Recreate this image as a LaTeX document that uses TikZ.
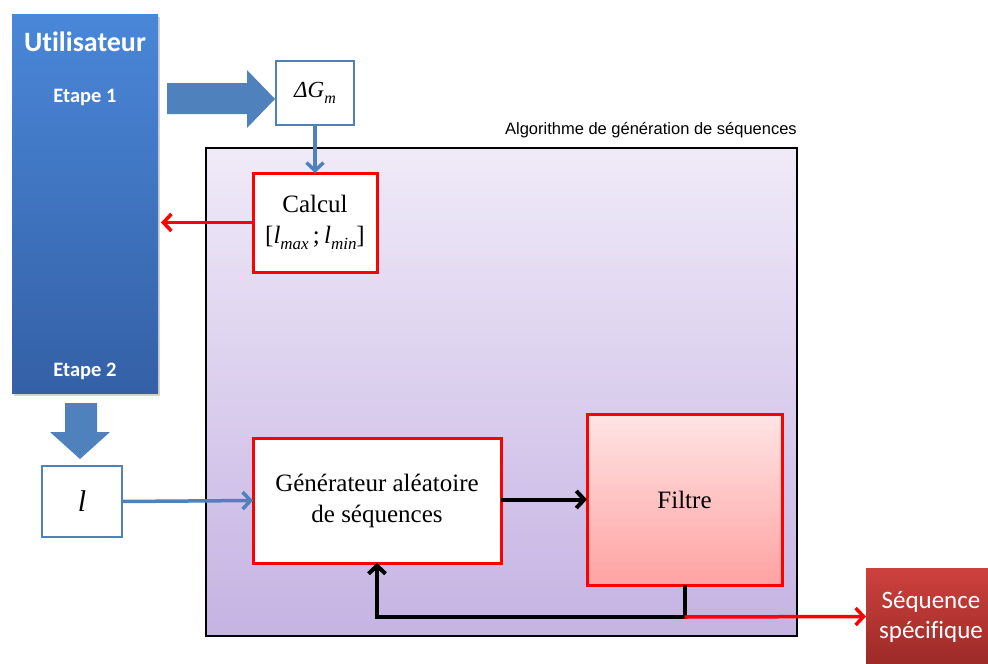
\documentclass[tikz,border=0pt]{standalone}
\usepackage{fontspec}
\setmainfont{Liberation Serif}
\newfontfamily\calib[Ligatures=NoCommon]{Carlito}
\newfontfamily\arialf{Liberation Sans}
\usetikzlibrary{arrows.meta,shadows}
\definecolor{ublue}{HTML}{4F81BD}
\definecolor{utop}{HTML}{4A87D8}
\definecolor{ubot}{HTML}{3460A6}
\definecolor{ptop}{HTML}{F0EAF8}
\definecolor{pbot}{HTML}{C5B3E3}
\definecolor{ftop}{HTML}{FFE4E4}
\definecolor{fbot}{HTML}{FFA2A2}
\definecolor{stop}{HTML}{CD413D}
\definecolor{sbot}{HTML}{9C2A27}
\definecolor{redb}{HTML}{FF0000}
\tikzset{
  box/.style={rectangle, inner sep=0pt, outer sep=0pt},
  bluebox/.style={box, draw=ublue, line width=2.5pt, fill=white},
  redbox/.style={box, draw=redb, line width=3pt, fill=white, align=center, font=\fontsize{25}{31}\selectfont},
  bluearr/.style={draw=ublue, line width=3.5pt, -{Straight Barb[length=8pt,width=17pt,line width=3.5pt]}},
  redarr/.style={draw=redb, line width=3.5pt, -{Straight Barb[length=8pt,width=17pt,line width=3.5pt]}},
  blackarr/.style={draw=black, line width=4pt, -{Straight Barb[length=8pt,width=17pt,line width=4pt]}},
  blockarr/.style={fill=ublue, draw=none},
}
\newcommand{\mysub}[1]{\raisebox{-0.25em}{\fontsize{17}{19}\selectfont\textit{#1}}}
\begin{document}
\begin{tikzpicture}[x=1pt,y=-1pt]
\useasboundingbox (0,0) rectangle (988,664);
% Utilisateur column
\node[box, minimum width=146pt, minimum height=379pt, top color=utop, bottom color=ubot,
      drop shadow={shadow xshift=2pt, shadow yshift=-3pt, opacity=0.35}] (user) at (85,203.5) {};
\node[text=white, font=\calib\bfseries\fontsize{28}{30}\selectfont] (utit) at (85,42) {Utilisateur};
\node[text=white, font=\calib\bfseries\fontsize{20.5}{22}\selectfont] (et1) at (85,97) {Etape 1};
\node[text=white, font=\calib\bfseries\fontsize{20.5}{22}\selectfont] (et2) at (85,371) {Etape 2};
% block arrows
\fill[blockarr] (167,83) -- (247,83) -- (247,70) -- (275,99) -- (247,128) -- (247,114) -- (167,114) -- cycle;
\fill[blockarr] (65,403) -- (97,403) -- (97,432) -- (110,432) -- (80,459) -- (50,432) -- (65,432) -- cycle;
% algorithm container
\node[box, draw=black, line width=2pt, minimum width=591pt, minimum height=488pt, top color=ptop, bottom color=pbot] (algo) at (501.5,392) {};
\node[anchor=south east, inner sep=0pt, font=\arialf\fontsize{16.5}{19}\selectfont] (algolbl) at (797,138) {Algorithme de génération de séquences};
% Delta G box
\node[bluebox, minimum width=78pt, minimum height=64pt, font=\fontsize{23}{26}\selectfont] (dg) at (315,93) {\textit{ΔG}\raisebox{-0.25em}{\fontsize{16}{18}\selectfont\textit{m}}};
% Calcul
\node[redbox, minimum width=124pt, minimum height=99pt] (calc) at (315,222.5) {Calcul\\{}[\textit{l}\mysub{max}\,;\,\textit{l}\mysub{min}]};
% l box
\node[bluebox, minimum width=80pt, minimum height=71pt, font=\fontsize{30}{32}\selectfont] (lbox) at (82,501.5) {\textit{l}};
% Generateur
\node[redbox, minimum width=248pt, minimum height=125pt] (gen) at (377,500.5) {Générateur aléatoire\\de séquences};
% Filtre
\node[redbox, minimum width=195pt, minimum height=171pt, top color=ftop, bottom color=fbot] (filt) at (684.5,499.5) {Filtre};
% Sequence specifique
\node[box, minimum width=130pt, minimum height=96pt, top color=stop, bottom color=sbot, text=white, align=center,
      font=\calib\fontsize{25}{30}\selectfont] (seq) at (931,616.5) {Séquence\\spécifique};
% connectors
\draw[bluearr] (dg.south) -- (calc.north);
\draw[redarr, shorten >=3pt] (calc.west) -- (user.east |- calc.west);
\draw[bluearr] (lbox.east) -- (gen.west);
\draw[blackarr] (gen.east |- filt.west) -- (filt.west);
\coordinate (fb) at (684.5,617);
\draw[blackarr] (filt.south) -- (fb) -| (gen.south);
\draw[redarr] (fb) -- (seq.west);
\end{tikzpicture}
\end{document}
